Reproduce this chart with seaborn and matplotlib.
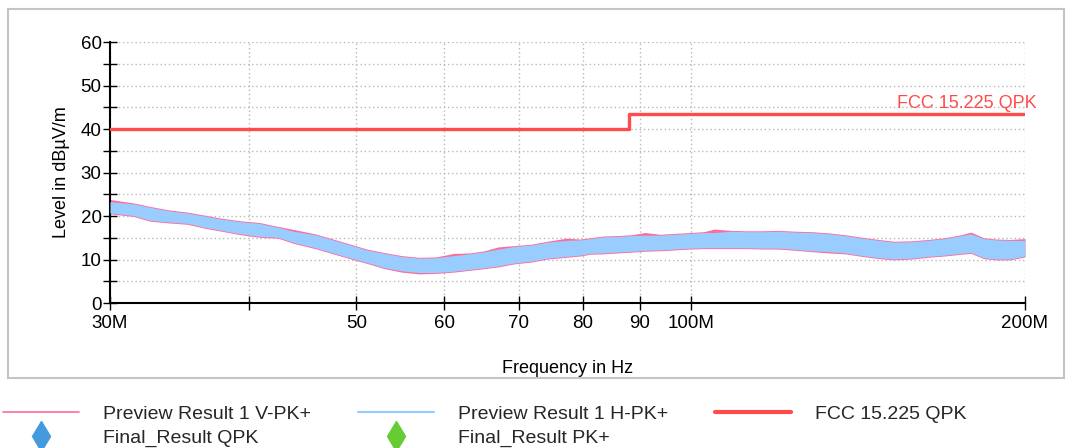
import numpy as np
import matplotlib
matplotlib.use("Agg")
import matplotlib.pyplot as plt
from matplotlib.lines import Line2D
from matplotlib.patches import Rectangle
from matplotlib.ticker import FixedLocator, NullLocator, MultipleLocator
import seaborn as sns

# frequency grid (MHz)
freq_mhz = [30, 31.5, 32.6, 33.9, 35.2, 36.5, 37.8, 39.3, 40.9, 42.5,
            43.9, 45.9, 47.5, 49.3, 51.1, 53.0, 54.9, 56.9, 59.0, 61.2,
            63.2, 65.2, 67.1, 69.4, 71.8, 74.3, 77.3, 79.5, 81.2, 83.4,
            86.0, 88.5, 91.0, 93.8, 96.8, 99.8, 102.8, 105.0, 108.6, 112.0,
            116.1, 120.0, 124.3, 128.5, 133.3, 137.7, 142.7, 147.7, 152.5, 158.0,
            163.6, 169.2, 175.2, 178.8, 183.6, 188.5, 193.9, 200]

# Preview Result 1 H-PK+ (blue) envelope, dBuV/m
h_hi = [23.3, 22.8, 22.0, 21.2, 20.7, 20.0, 19.3, 18.7, 18.3, 17.4,
        16.5, 15.7, 14.6, 13.4, 12.2, 11.4, 10.7, 10.3, 10.4, 10.9,
        11.3, 11.8, 12.4, 13.0, 13.3, 14.0, 14.4, 14.5, 14.8, 15.2,
        15.3, 15.5, 15.6, 15.6, 15.8, 16.0, 16.2, 16.2, 16.5, 16.4,
        16.4, 16.5, 16.3, 16.2, 15.9, 15.5, 14.9, 14.4, 14.0, 14.1,
        14.4, 14.8, 15.5, 15.9, 14.8, 14.5, 14.4, 14.4]
h_lo = [20.7, 20.1, 19.0, 18.6, 18.3, 17.4, 16.7, 15.9, 15.3, 15.1,
        13.9, 12.7, 11.6, 10.4, 9.3, 8.1, 7.4, 7.0, 7.0, 7.3,
        7.7, 8.1, 8.5, 9.2, 9.6, 10.3, 10.7, 11.0, 11.4, 11.5,
        11.7, 11.9, 12.1, 12.2, 12.4, 12.6, 12.7, 12.7, 12.7, 12.7,
        12.6, 12.6, 12.3, 12.0, 11.8, 11.5, 10.9, 10.4, 10.1, 10.3,
        10.7, 11.0, 11.4, 11.6, 10.4, 10.1, 10.1, 10.8]

# Preview Result 1 V-PK+ (pink) envelope, mostly hidden under the blue one
v_hi = [23.8, 23.0, 22.2, 21.4, 20.9, 20.2, 19.5, 18.9, 18.5, 17.6,
        16.9, 15.9, 14.8, 13.6, 12.4, 11.6, 10.9, 10.5, 10.6, 11.4,
        11.5, 12.0, 12.9, 13.2, 13.5, 14.2, 14.9, 14.7, 15.0, 15.4,
        15.5, 15.7, 16.2, 15.8, 16.0, 16.2, 16.4, 17.0, 16.7, 16.6,
        16.6, 16.7, 16.5, 16.4, 16.1, 15.7, 15.1, 14.6, 14.2, 14.3,
        14.6, 15.0, 15.7, 16.3, 15.0, 14.7, 14.6, 14.8]
v_lo = [20.5, 19.9, 18.8, 18.4, 18.1, 17.2, 16.5, 15.7, 15.1, 14.9,
        13.7, 12.5, 11.4, 10.2, 9.1, 7.9, 7.1, 6.7, 6.8, 7.1,
        7.5, 7.9, 8.3, 9.0, 9.4, 10.1, 10.5, 10.8, 11.2, 11.3,
        11.5, 11.7, 11.9, 12.0, 12.2, 12.4, 12.5, 12.5, 12.5, 12.5,
        12.4, 12.4, 12.1, 11.8, 11.5, 11.3, 10.7, 10.2, 9.9, 10.1,
        10.5, 10.8, 11.2, 11.4, 10.2, 9.9, 9.9, 10.6]

# FCC limit line
limit_mhz = [30, 88, 200]
limit_db = [40, 43.5, 43.5]
limit_name = "FCC 15.225 QPK"

xtick_mhz = [30, 40, 50, 60, 70, 80, 90, 100, 200]
xtick_labels = ["30M", "", "50", "60", "70", "80", "90", "100M", "200M"]

PINK = "#ff6b9a"
BLUE = "#99ccff"
RED = "#ff4b4b"

sns.set_theme(style="white")
plt.rcParams["font.family"] = ["Liberation Sans", "DejaVu Sans"]

fig = plt.figure(figsize=(10.66, 4.48), dpi=100)
fig.patches.append(Rectangle((8 / 1066, 1 - 378 / 448), 1056 / 1066, 369 / 448,
                             transform=fig.transFigure, fill=False,
                             edgecolor="#c4c4c4", linewidth=1.5))
ax = fig.add_axes([110 / 1066, 1 - 303 / 448, 915 / 1066, 261 / 448])

f_hz = np.array(freq_mhz) * 1e6
ax.fill_between(f_hz, v_lo, v_hi, color=PINK, linewidth=0, zorder=2)
ax.fill_between(f_hz, h_lo, h_hi, color=BLUE, linewidth=0, zorder=3)

sns.lineplot(x=np.array(limit_mhz) * 1e6, y=limit_db, drawstyle="steps-post",
             color=RED, linewidth=2.4, ax=ax, zorder=4)
ax.text(205e6, 44.9, limit_name, color=RED, fontsize=13, ha="right",
        va="baseline", clip_on=False)

ax.set_xscale("log")
ax.set_xlim(30e6, 200e6)
ax.set_ylim(0, 60)
ax.xaxis.set_major_locator(FixedLocator(np.array(xtick_mhz) * 1e6))
ax.xaxis.set_minor_locator(NullLocator())
ax.set_xticklabels(xtick_labels)
ax.yaxis.set_major_locator(MultipleLocator(10))
ax.yaxis.set_minor_locator(MultipleLocator(5))

ax.grid(True, which="both", color="#b8b8b8", linestyle=(0, (1, 2)), linewidth=1)
ax.set_axisbelow(True)
for s in ["top", "right"]:
    ax.spines[s].set_visible(False)
for s in ["left", "bottom"]:
    ax.spines[s].set_color("black")
    ax.spines[s].set_linewidth(1.5)

ax.tick_params(which="both", direction="inout", length=10, width=1,
               color="black", labelsize=13.5, labelcolor="black")
ax.tick_params(axis="y", which="both", left=True, pad=1)
ax.tick_params(axis="x", which="both", bottom=True, pad=4)

ax.set_xlabel("Frequency in Hz", fontsize=13, color="black", labelpad=20)
ax.set_ylabel("Level in dB\u00b5V/m", fontsize=13, color="black", labelpad=8)

handles = [
    Line2D([], [], color=PINK, linewidth=1.2),
    Line2D([], [], color="#4499dd", marker="d", linestyle="none", markersize=15),
    Line2D([], [], color=BLUE, linewidth=1.6),
    Line2D([], [], color="#66cc33", marker="d", linestyle="none", markersize=15),
    Line2D([], [], color=RED, linewidth=3),
]
labels = ["Preview Result 1 V-PK+", "Final_Result QPK",
          "Preview Result 1 H-PK+", "Final_Result PK+", limit_name]
fig.legend(handles, labels, ncol=3, loc="upper left",
           bbox_to_anchor=(3 / 1066, 1 - 405 / 448), frameon=False,
           fontsize=14, handlelength=3.9, handletextpad=1.25,
           columnspacing=2.4, labelspacing=0.35, borderpad=0,
           borderaxespad=0)

fig.savefig("out.png", dpi=100)
plt.close(fig)
